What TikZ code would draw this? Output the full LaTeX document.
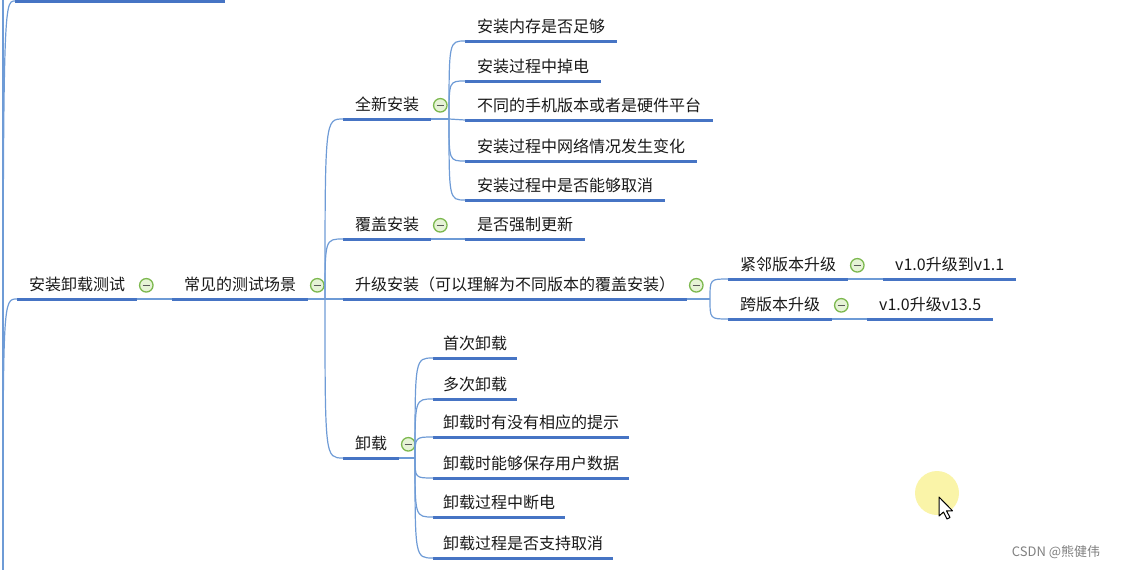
\documentclass[tikz,border=0pt]{standalone}
\usepackage{fontspec}
\setmainfont{Noto Sans CJK SC}
\usepackage{tikz}
\usetikzlibrary{positioning, calc}
\definecolor{mapblue}{HTML}{4674C4}
\definecolor{linkblue}{HTML}{6E9BD6}
\definecolor{foldgreen}{HTML}{7CB84E}
\definecolor{foldfill}{HTML}{E6F3D6}
\definecolor{cursoryellow}{HTML}{FAF4A8}
\tikzset{
    topic/.style = {anchor=south west, inner xsep=12pt, inner ysep=5pt, text height=14pt, text depth=3pt, text=black!90, font=\fontsize{16}{18}\selectfont,
        append after command={(\tikzlastnode.south west) edge[uline] (\tikzlastnode.south east)}},
    uline/.style = {draw=mapblue, line width=3pt},
    link/.style = {draw=linkblue, line width=1.2pt},
    branch/.style = {to path={.. controls (\tikztostart |- \tikztotarget) and (\tikztostart |- \tikztotarget) .. (\tikztotarget)}},
    fold/.style = {circle, draw=foldgreen, fill=foldfill, line width=1.3pt, minimum size=13.5pt, inner sep=0pt,
        path picture={\draw[line width=1.5pt, black!65] ([xshift=-3.8pt]path picture bounding box.center) -- ([xshift=3.8pt]path picture bounding box.center);}}
}
\begin{document}
\begin{tikzpicture}[x=1pt, y=-1pt]
        \useasboundingbox (0,0) rectangle (1122,570);

        % Trunk from the parent off the page
        \coordinate (trunkb) at (3,572);
        \coordinate (trunkt) at (3,-2);
        \coordinate (upper) at (15,1);
        \coordinate (upperend) at (225,1);
        \draw [link] (trunkb) -- (trunkt);
        \draw [uline] (upper) -- (upperend);
        \draw [link] (trunkb) to[branch] (upper);

        % Main topics
        \node [topic] (root) at (17,299) {安装卸载测试};
        \node [fold, right=1.5pt of root] (rootfold) {};
        \node [topic] (scene) at (172,299) {常见的测试场景};
        \node [fold, right=1.5pt of scene] (scenefold) {};
        \coordinate (hub) at (325,299);

        \node [topic] (fresh) at (343,119) {全新安装};
        \node [fold, right=1.5pt of fresh] (freshfold) {};
        \node [topic] (cover) at (343,239) {覆盖安装};
        \node [fold, right=1.5pt of cover] (coverfold) {};
        \node [topic] (upgrade) at (343,299) {升级安装（可以理解为不同版本的覆盖安装）};
        \node [fold, right=1.5pt of upgrade] (upgradefold) {};
        \node [topic] (uninst) at (343,458) {卸载};
        \node [fold, right=1.5pt of uninst] (uninstfold) {};

        % Fresh install
        \coordinate (freshhub) at (449,119);
        \node [topic] (mem) at (465,41) {安装内存是否足够};
        \node [topic] (power) at (465,81) {安装过程中掉电};
        \node [topic] (device) at (465,120) {不同的手机版本或者是硬件平台};
        \node [topic] (network) at (465,161) {安装过程中网络情况发生变化};
        \node [topic] (cancel) at (465,200) {安装过程中是否能够取消};

        % Cover install
        \node [topic] (force) at (465,239) {是否强制更新};

        % Upgrade
        \coordinate (upgradehub) at (710,299);
        \node [topic] (adjacent) at (728,279) {紧邻版本升级};
        \node [fold, right=1.5pt of adjacent] (adjacentfold) {};
        \node [topic] (adjv) at (883,279) {v1.0升级到v1.1};
        \node [topic] (cross) at (728,319) {跨版本升级};
        \node [fold, right=1.5pt of cross] (crossfold) {};
        \node [topic] (crossv) at (867,319) {v1.0升级v13.5};

        % Uninstall
        \coordinate (uninsthub) at (415,458);
        \node [topic, inner xsep=10pt] (first) at (433,358) {首次卸载};
        \node [topic, inner xsep=10pt] (again) at (433,399) {多次卸载};
        \node [topic, inner xsep=10pt] (hint) at (433,437) {卸载时有没有相应的提示};
        \node [topic, inner xsep=10pt] (keep) at (433,478) {卸载时能够保存用户数据};
        \node [topic, inner xsep=10pt] (cut) at (433,517) {卸载过程中断电};
        \node [topic, inner xsep=10pt] (abort) at (433,558) {卸载过程是否支持取消};

        % Edges
        \draw [link] (trunkb) to[branch] (root.south west);
        \draw [link] (root.south east) -- (scene.south west);
        \draw [link] (scene.south east) -- (hub);
        \draw [link] (hub) to[branch] (fresh.south west);
        \draw [link] (hub) to[branch] (cover.south west);
        \draw [link] (hub) -- (upgrade.south west);
        \draw [link] (hub) to[branch] (uninst.south west);

        \draw [link] (fresh.south east) -- (freshhub);
        \draw [link] (freshhub) to[branch] (mem.south west);
        \draw [link] (freshhub) to[branch] (power.south west);
        \draw [link] (freshhub) -- (device.south west);
        \draw [link] (freshhub) to[branch] (network.south west);
        \draw [link] (freshhub) to[branch] (cancel.south west);

        \draw [link] (cover.south east) -- (force.south west);

        \draw [link] (upgrade.south east) -- (upgradehub);
        \draw [link] (upgradehub) to[branch] (adjacent.south west);
        \draw [link] (upgradehub) to[branch] (cross.south west);
        \draw [link] (adjacent.south east) -- (adjv.south west);
        \draw [link] (cross.south east) -- (crossv.south west);

        \draw [link] (uninst.south east) -- (uninsthub);
        \draw [link] (uninsthub) to[branch] (first.south west);
        \draw [link] (uninsthub) to[branch] (again.south west);
        \draw [link] (uninsthub) to[branch] (hint.south west);
        \draw [link] (uninsthub) to[branch] (keep.south west);
        \draw [link] (uninsthub) to[branch] (cut.south west);
        \draw [link] (uninsthub) to[branch] (abort.south west);

        % Pointer and watermark
        \fill [cursoryellow] (937,493) circle (22pt);
        \draw [fill=white, line width=1pt, line join=round, shift={(939,497)}]
            (0,0) -- (0,19) -- (4.5,15) -- (8,22) -- (11,20.5) -- (7.5,13.8) -- (13.5,13.8) -- cycle;
        \node [font=\fontsize{13}{15}\selectfont, text=black!50] (mark) at (1056,552) {CSDN @熊健伟};

    \end{tikzpicture}
\end{document}
